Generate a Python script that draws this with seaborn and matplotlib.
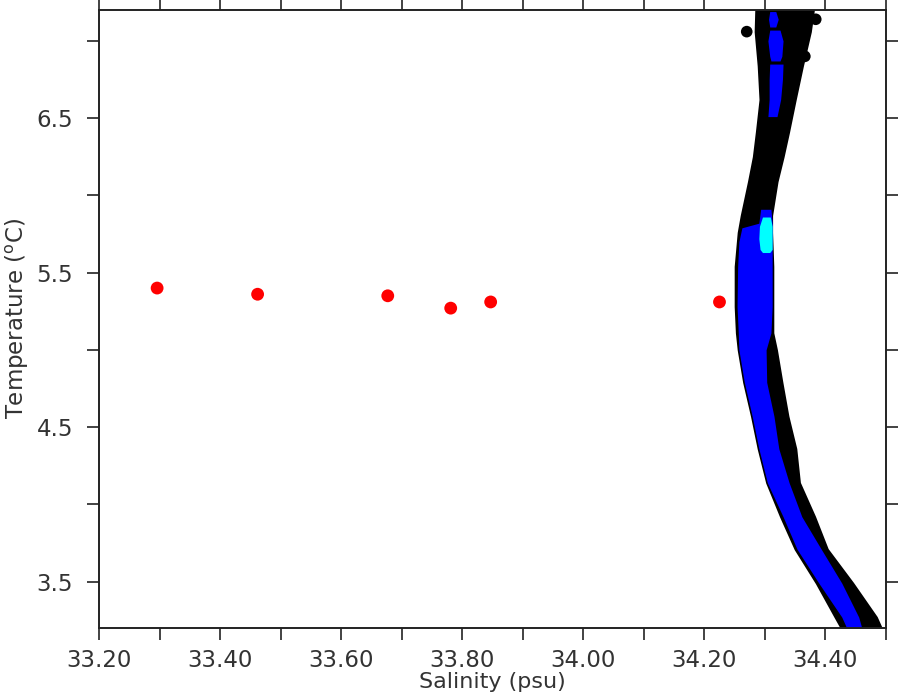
import numpy as np
import pandas as pd
import seaborn as sns
import matplotlib.pyplot as plt
from matplotlib.ticker import MultipleLocator

# T-S envelope of the black cast (temperature, salinity left / right edge)
black_temp = [7.20, 7.06, 6.84, 6.62, 6.41, 6.25, 6.09, 5.87, 5.76, 5.54, 5.28,
              5.11, 5.00, 4.79, 4.57, 4.36, 4.14, 3.92, 3.71, 3.49, 3.27, 3.20]
black_sal_lo = [34.285, 34.284, 34.289, 34.292, 34.286, 34.281, 34.273, 34.261,
                34.256, 34.251, 34.251, 34.253, 34.256, 34.265, 34.278, 34.289,
                34.303, 34.326, 34.350, 34.385, 34.416, 34.426]
black_sal_hi = [34.380, 34.375, 34.362, 34.350, 34.339, 34.330, 34.320, 34.311,
                34.311, 34.313, 34.313, 34.313, 34.319, 34.328, 34.338, 34.351,
                34.357, 34.382, 34.403, 34.445, 34.484, 34.492]
# a few stray black casts near the top
black_out_sal = [34.270, 34.384, 34.366]
black_out_temp = [7.06, 7.14, 6.90]

# blue cast, main body
blue_temp = [5.91, 5.82, 5.79, 5.70, 5.54, 5.28, 5.11, 5.00, 4.79, 4.57, 4.36,
             4.14, 3.92, 3.71, 3.49, 3.27, 3.20]
blue_sal_lo = [34.293, 34.290, 34.262, 34.257, 34.255, 34.254, 34.256, 34.257,
               34.266, 34.279, 34.290, 34.304, 34.330, 34.353, 34.389, 34.427,
               34.435]
blue_sal_hi = [34.310, 34.312, 34.312, 34.312, 34.312, 34.312, 34.310, 34.302,
               34.303, 34.315, 34.323, 34.340, 34.361, 34.393, 34.427, 34.455,
               34.460]
# blue cast, upper pieces
blue_up1_temp = [7.19, 7.14, 7.09]
blue_up1_lo = [34.308, 34.306, 34.308]
blue_up1_hi = [34.318, 34.322, 34.318]
blue_up2_temp = [7.07, 7.00, 6.90, 6.87]
blue_up2_lo = [34.308, 34.305, 34.308, 34.310]
blue_up2_hi = [34.325, 34.330, 34.328, 34.325]
blue_up3_temp = [6.85, 6.75, 6.62, 6.51]
blue_up3_lo = [34.308, 34.307, 34.307, 34.305]
blue_up3_hi = [34.330, 34.329, 34.326, 34.320]

# cyan cast
cyan_temp = [5.86, 5.80, 5.72, 5.65, 5.63]
cyan_sal_lo = [34.296, 34.291, 34.290, 34.292, 34.296]
cyan_sal_hi = [34.309, 34.312, 34.312, 34.312, 34.308]

# red bottle samples
red_sal = [33.296, 33.462, 33.677, 33.781, 33.847, 34.225]
red_temp = [5.40, 5.36, 5.35, 5.27, 5.31, 5.31]

sns.set_theme(style="white")
plt.rcParams["font.family"] = ["DejaVu Sans"]

fig = plt.figure(figsize=(9, 7), dpi=100)
ax = fig.add_axes([0.11, 0.103, 0.8744, 0.8827])

ax.fill_betweenx(black_temp, black_sal_lo, black_sal_hi, color="black",
                 lw=1.5, edgecolor="black", joinstyle="round")
sns.scatterplot(x=black_out_sal, y=black_out_temp, color="black", s=70,
                edgecolor="none", ax=ax)
for t, lo, hi in [(blue_temp, blue_sal_lo, blue_sal_hi),
                  (blue_up1_temp, blue_up1_lo, blue_up1_hi),
                  (blue_up2_temp, blue_up2_lo, blue_up2_hi),
                  (blue_up3_temp, blue_up3_lo, blue_up3_hi)]:
    ax.fill_betweenx(t, lo, hi, color="#0000ff", lw=0)
ax.fill_betweenx(cyan_temp, cyan_sal_lo, cyan_sal_hi, color="#00ffff", lw=0)

red = pd.DataFrame({"Salinity": red_sal, "Temperature": red_temp})
sns.scatterplot(data=red, x="Salinity", y="Temperature", color="#ff0000",
                s=85, edgecolor="none", ax=ax, zorder=5)

ax.set_xlim(33.2, 34.5)
ax.set_ylim(3.2, 7.2)
ax.xaxis.set_major_locator(MultipleLocator(0.2))
ax.xaxis.set_minor_locator(MultipleLocator(0.1))
ax.yaxis.set_major_locator(MultipleLocator(1.0, offset=0.5))
ax.yaxis.set_minor_locator(MultipleLocator(0.5))
ax.xaxis.set_major_formatter(plt.FormatStrFormatter("%.2f"))
ax.yaxis.set_major_formatter(plt.FormatStrFormatter("%.1f"))

ax.tick_params(which="both", direction="out", length=8.5, width=1.2,
               color="#222222", top=True, right=True, bottom=True, left=True,
               labelsize=16.5, labelcolor="#333333")
ax.tick_params(axis="x", pad=7)
ax.tick_params(axis="y", pad=10)
for sp in ax.spines.values():
    sp.set_linewidth(1.4)
    sp.set_color("#222222")

ax.set_xlabel("Salinity (psu)", fontsize=16, color="#333333", labelpad=0)
ax.set_ylabel("Temperature ($^\\mathregular{o}$C)", fontsize=16.5,
              color="#333333", labelpad=4)

fig.savefig("out.png", dpi=100)
